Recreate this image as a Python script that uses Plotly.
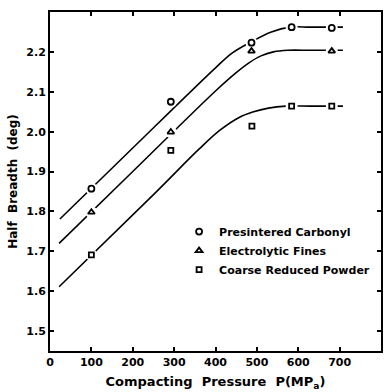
import plotly.graph_objects as go

# Measured points
carbonyl_x = [100, 292, 487, 584, 681]
carbonyl_y = [1.857, 2.075, 2.223, 2.262, 2.260]
fines_x = [100, 292, 487, 681]
fines_y = [1.798, 1.999, 2.202, 2.202]
coarse_x = [100, 292, 488, 584, 681]
coarse_y = [1.691, 1.953, 2.014, 2.064, 2.064]

# Fitted curves (knots)
carbonyl_fit_x = [24, 200, 400, 440, 486, 535, 580, 630, 708]
carbonyl_fit_y = [1.781, 1.959, 2.160, 2.197, 2.225, 2.250, 2.262, 2.262, 2.262]
fines_fit_x = [22, 200, 400, 450, 480, 510, 540, 575, 630, 708]
fines_fit_y = [1.720, 1.900, 2.102, 2.148, 2.172, 2.190, 2.200, 2.204, 2.204, 2.204]
coarse_fit_x = [22, 252, 360, 410, 456, 490, 528, 570, 630, 708]
coarse_fit_y = [1.611, 1.844, 1.956, 2.003, 2.035, 2.049, 2.059, 2.064, 2.064, 2.064]

x_tickvals = [0, 100, 200, 300, 400, 500, 600, 700]
y_tickvals = [1.5, 1.6, 1.7, 1.8, 1.9, 2.0, 2.1, 2.2]

names = ["Presintered Carbonyl", "Electrolytic Fines", "Coarse Reduced Powder"]
FONT = "DejaVu Sans"

fig = go.Figure()

for fx, fy in [(carbonyl_fit_x, carbonyl_fit_y), (fines_fit_x, fines_fit_y), (coarse_fit_x, coarse_fit_y)]:
    fig.add_trace(go.Scatter(x=fx, y=fy, mode="lines", line=dict(color="black", width=1.6, shape="spline"),
                             showlegend=False, hoverinfo="skip"))

# white masks making gaps in the curves around the markers
for px, py in [(carbonyl_x, carbonyl_y), (fines_x, fines_y), (coarse_x, coarse_y)]:
    fig.add_trace(go.Scatter(x=px, y=py, mode="markers",
                             marker=dict(symbol="circle", size=12, color="white", line=dict(width=0)),
                             showlegend=False, hoverinfo="skip"))

for px, py, sym, sz, nm in [(carbonyl_x, carbonyl_y, "circle-open", 6, names[0]),
                            (fines_x, fines_y, "triangle-up-open", 6, names[1]),
                            (coarse_x, coarse_y, "square-open", 5, names[2])]:
    fig.add_trace(go.Scatter(x=px, y=py, mode="markers", name=nm,
                             marker=dict(symbol=sym, size=sz, color="black", line=dict(width=1.8, color="black"))))

fig.update_layout(
    width=385, height=392,
    margin=dict(l=50, r=2, t=12, b=41),
    paper_bgcolor="white", plot_bgcolor="white",
    font=dict(family=FONT, color="black", size=11),
    legend=dict(x=0.39, y=0.395, xanchor="left", yanchor="top", bgcolor="rgba(0,0,0,0)",
                font=dict(family=FONT, size=11, color="black", weight="bold"),
                itemwidth=30, tracegroupgap=0),
)
fig.update_xaxes(range=[0, 800], tickvals=x_tickvals, ticktext=[str(v) for v in x_tickvals],
                 showgrid=False, zeroline=False, showline=True, linecolor="black", linewidth=2,
                 mirror="ticks", ticks="inside", ticklen=4, tickwidth=1.5, tickcolor="black",
                 tickfont=dict(family=FONT, size=11, weight="bold"),
                 title=dict(text="Compacting  Pressure  P(MP<sub>a</sub>)", standoff=9,
                            font=dict(family=FONT, size=13, weight="bold")))
fig.update_yaxes(range=[1.45, 2.3], tickvals=y_tickvals, ticktext=[f"{v:.1f}" for v in y_tickvals],
                 showgrid=False, zeroline=False, showline=True, linecolor="black", linewidth=2,
                 mirror="ticks", ticks="inside", ticklen=4, tickwidth=1.5, tickcolor="black",
                 tickfont=dict(family=FONT, size=11, weight="bold"),
                 title=dict(text="Half  Breadth  (deg)", standoff=6,
                            font=dict(family=FONT, size=12, weight="bold")))

fig.write_html("out.html")
